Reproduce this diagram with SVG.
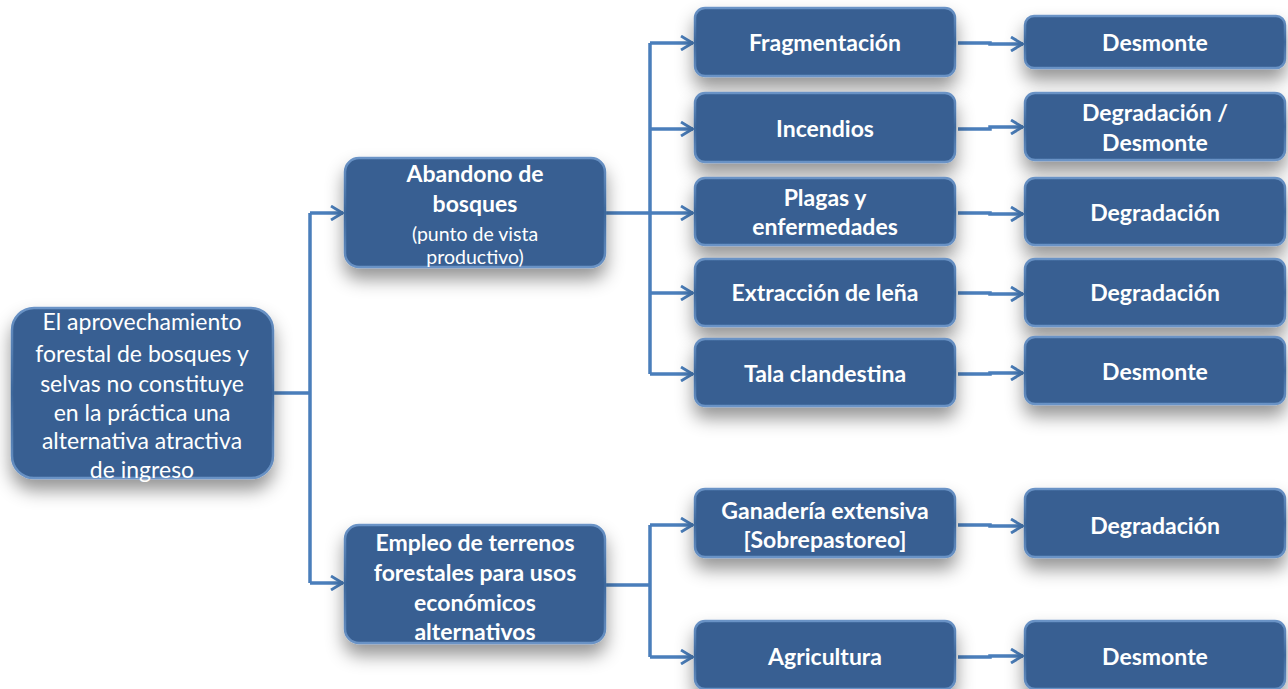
<svg xmlns="http://www.w3.org/2000/svg" width="1288" height="689" viewBox="0 0 1288 689">
<defs>
<filter id="sh" x="-20%" y="-30%" width="140%" height="190%">
<feDropShadow dx="0" dy="11" stdDeviation="9" flood-color="#000" flood-opacity="0.42"/>
</filter>
<linearGradient id="bev" x1="0" y1="0" x2="0" y2="1">
<stop offset="0" stop-color="#6a93c6"/>
<stop offset="0.5" stop-color="#3d679b"/>
<stop offset="1" stop-color="#6a93c6"/>
</linearGradient>
<marker id="ar" viewBox="0 0 14 16" refX="13" refY="8" markerWidth="14" markerHeight="16" markerUnits="userSpaceOnUse" orient="auto">
<path d="M1,1 L12.5,8 L1,15" fill="none" stroke="#4A7EBB" stroke-width="2.8"/>
</marker>
</defs>
<style>
.box{fill:#375f92;stroke:url(#bev);stroke-width:2.5;filter:url(#sh)}
.t{fill:#fff;font-family:Lato,"Open Sans","Liberation Sans",sans-serif;font-size:23px;text-anchor:middle}
.b{font-weight:bold}
.s{font-size:19.5px}
.c{fill:none;stroke:#4A7EBB;stroke-width:3.5}
.a{marker-end:url(#ar)}
</style>
<rect width="1288" height="689" fill="#fff"/>
<g id="connectors">
<path class="c" d="M273,393 H310 M310,213 V583"/>
<path class="c a" d="M310,213 H343"/>
<path class="c a" d="M310,583 H343"/>
<path class="c" d="M605,213 H650 M650,43 V374"/>
<path class="c a" d="M650,43 H693"/>
<path class="c a" d="M650,129 H693"/>
<path class="c a" d="M650,213 H693"/>
<path class="c a" d="M650,293 H693"/>
<path class="c a" d="M650,374 H693"/>
<path class="c" d="M605,585 H650 M650,525 V657"/>
<path class="c a" d="M650,525 H693"/>
<path class="c a" d="M650,657 H693"/>
<path class="c a" d="M958,43 H990 V44 H1023"/>
<path class="c a" d="M958,129 H990 V127 H1023"/>
<path class="c a" d="M958,213 H990 V214 H1023"/>
<path class="c a" d="M958,293 H990 V294 H1023"/>
<path class="c a" d="M958,374 H990 V373 H1023"/>
<path class="c a" d="M958,525 H990 V526 H1023"/>
<path class="c a" d="M958,657 H990 V656 H1023"/>
</g>
<g id="root">
<rect class="box" x="12" y="308" width="261" height="170" rx="22"/>
<text class="t" x="142" y="330">El aprovechamiento</text>
<text class="t" x="142" y="362">forestal de bosques y</text>
<text class="t" x="142" y="392">selvas no constituye</text>
<text class="t" x="142" y="421">en la práctica una</text>
<text class="t" x="142" y="449">alternativa atractiva</text>
<text class="t" x="142" y="478">de ingreso</text>
</g>
<g id="abandono">
<rect class="box" x="345" y="158" width="260" height="109" rx="14"/>
<text class="t b" x="475" y="182">Abandono de</text>
<text class="t b" x="475" y="212">bosques</text>
<text class="t s" x="475" y="241">(punto de vista</text>
<text class="t s" x="475" y="264">productivo)</text>
</g>
<g id="empleo">
<rect class="box" x="345" y="525" width="260" height="118" rx="14"/>
<text class="t b" x="475" y="551">Empleo de terrenos</text>
<text class="t b" x="475" y="581">forestales para usos</text>
<text class="t b" x="475" y="611">económicos</text>
<text class="t b" x="475" y="640">alternativos</text>
</g>
<g id="fragmentacion">
<rect class="box" x="695" y="8" width="260" height="68" rx="10"/>
<text class="t b" x="825" y="51">Fragmentación</text>
</g>
<g id="incendios">
<rect class="box" x="695" y="93" width="260" height="69" rx="10"/>
<text class="t b" x="825" y="137">Incendios</text>
</g>
<g id="plagas">
<rect class="box" x="695" y="178" width="260" height="67" rx="10"/>
<text class="t b" x="825" y="206">Plagas y</text>
<text class="t b" x="825" y="235">enfermedades</text>
</g>
<g id="extraccion">
<rect class="box" x="695" y="259" width="260" height="67" rx="10"/>
<text class="t b" x="825" y="301">Extracción de leña</text>
</g>
<g id="tala">
<rect class="box" x="695" y="339" width="260" height="67" rx="10"/>
<text class="t b" x="825" y="382">Tala clandestina</text>
</g>
<g id="ganaderia">
<rect class="box" x="695" y="489" width="260" height="68" rx="10"/>
<text class="t b" x="825" y="519">Ganadería extensiva</text>
<text class="t b" x="825" y="548">[Sobrepastoreo]</text>
</g>
<g id="agricultura">
<rect class="box" x="695" y="621" width="260" height="68" rx="10"/>
<text class="t b" x="825" y="665">Agricultura</text>
</g>
<g id="r1">
<rect class="box" x="1025" y="16" width="260" height="52" rx="9"/>
<text class="t b" x="1155" y="51">Desmonte</text>
</g>
<g id="r2">
<rect class="box" x="1025" y="93" width="260" height="67" rx="10"/>
<text class="t b" x="1155" y="121">Degradación /</text>
<text class="t b" x="1155" y="151">Desmonte</text>
</g>
<g id="r3">
<rect class="box" x="1025" y="178" width="260" height="67" rx="10"/>
<text class="t b" x="1155" y="221">Degradación</text>
</g>
<g id="r4">
<rect class="box" x="1025" y="259" width="260" height="67" rx="10"/>
<text class="t b" x="1155" y="301">Degradación</text>
</g>
<g id="r5">
<rect class="box" x="1025" y="337" width="260" height="67" rx="10"/>
<text class="t b" x="1155" y="380">Desmonte</text>
</g>
<g id="r6">
<rect class="box" x="1025" y="489" width="260" height="68" rx="10"/>
<text class="t b" x="1155" y="534">Degradación</text>
</g>
<g id="r7">
<rect class="box" x="1025" y="621" width="260" height="68" rx="10"/>
<text class="t b" x="1155" y="665">Desmonte</text>
</g>
</svg>
